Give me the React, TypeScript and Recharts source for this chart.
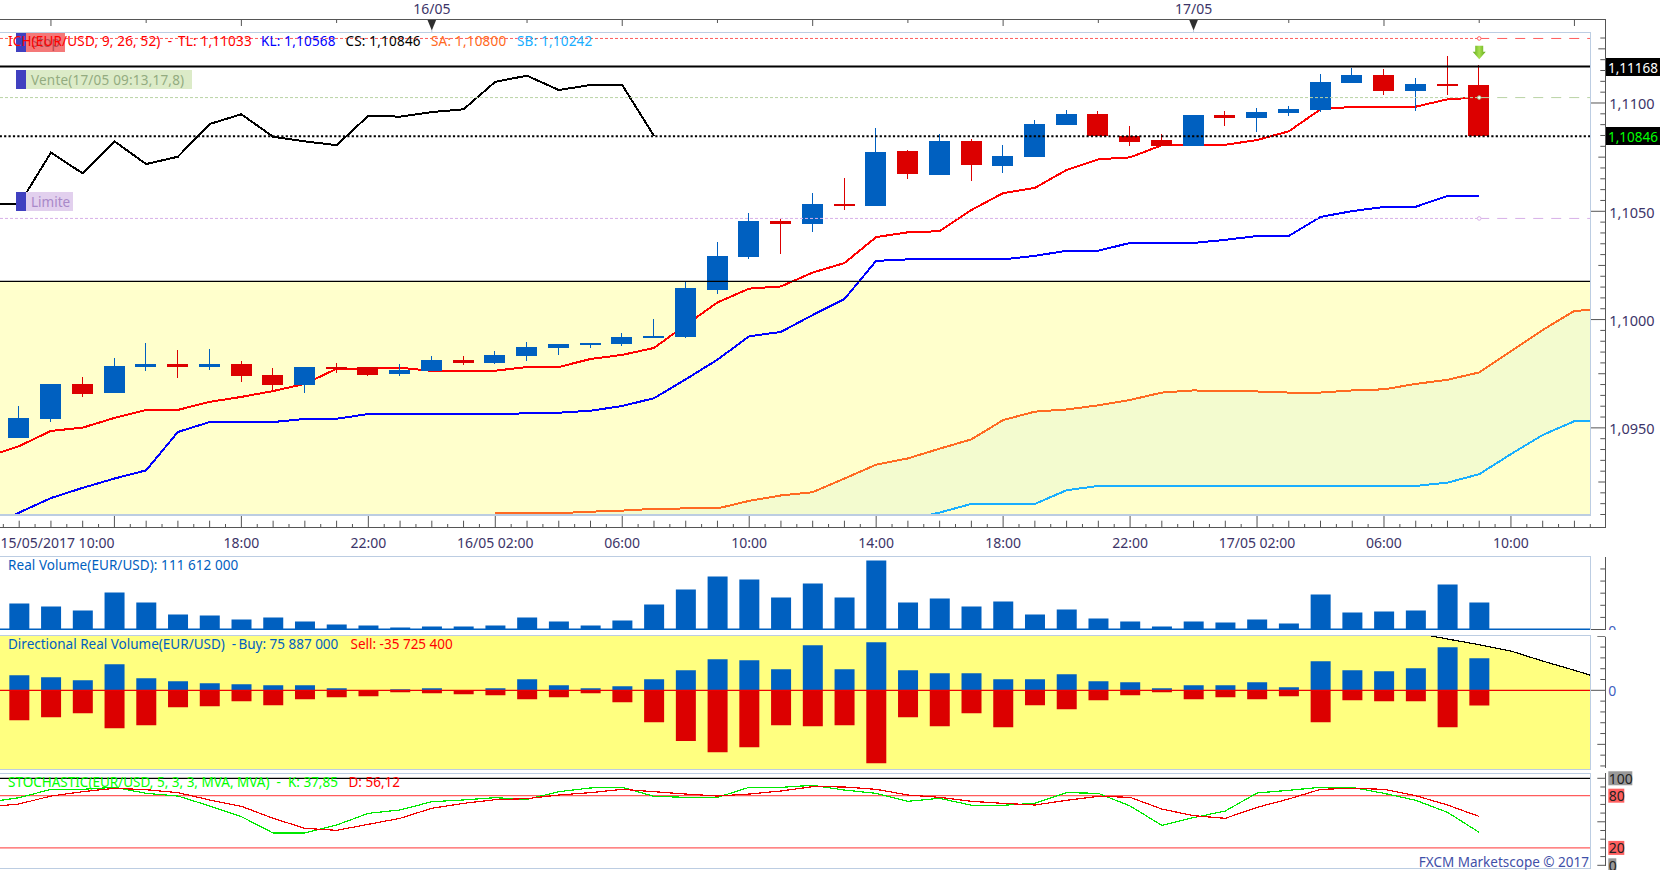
import React from "react";
import {
  Area,
  Bar,
  ComposedChart,
  Line,
  ReferenceArea,
  ReferenceDot,
  ReferenceLine,
  XAxis,
  YAxis,
} from "recharts";

// candles, index 0 = 15/05 11:00
const candleOpen = [
  1.09453, 1.09541, 1.09703, 1.09661, 1.09781, 1.09795, 1.09781, 1.09795, 1.09744, 1.09698, 1.09781, 1.09781,
  1.09749, 1.09763, 1.09813, 1.098, 1.09832, 1.09869, 1.09883, 1.09887, 1.09915, 1.0992, 1.10137, 1.10289,
  1.10455, 1.10441, 1.10534, 1.10524, 1.10778, 1.10668, 1.10825, 1.10709, 1.10751, 1.10898, 1.10949, 1.10848,
  1.10829, 1.10801, 1.10945, 1.10931, 1.10954, 1.10968, 1.11092, 1.11129, 1.11055, 1.11088, 1.11083,
];
const candleClose = [
  1.09546, 1.09703, 1.09657, 1.09786, 1.09795, 1.09781, 1.09795, 1.0974, 1.09698, 1.09781, 1.09772, 1.09744,
  1.09767, 1.09813, 1.098, 1.09837, 1.09874, 1.09887, 1.09892, 1.0992, 1.09924, 1.10146, 1.10294, 1.10455,
  1.10441, 1.10534, 1.10524, 1.10774, 1.10672, 1.10825, 1.10714, 1.10755, 1.10903, 1.10949, 1.10848, 1.1082,
  1.10801, 1.10945, 1.10931, 1.10958, 1.10972, 1.11097, 1.11129, 1.11055, 1.11088, 1.11078, 1.10848,
];
const candleHigh = [
  1.09601, 1.09703, 1.09735, 1.09823, 1.09892, 1.0986, 1.09864, 1.09809, 1.09777, 1.09781, 1.098, 1.09781,
  1.09795, 1.09832, 1.09832, 1.09855, 1.09897, 1.09887, 1.09892, 1.09938, 1.10003, 1.10178, 1.10358, 1.10492,
  1.10464, 1.10584, 1.10654, 1.10885, 1.10783, 1.10857, 1.10834, 1.10806, 1.10922, 1.10968, 1.10963, 1.10894,
  1.10857, 1.10945, 1.10963, 1.10977, 1.10986, 1.11134, 1.11162, 1.11157, 1.11115, 1.11217, 1.11175,
];
const candleLow = [
  1.09453, 1.09529, 1.09643, 1.09661, 1.09763, 1.0973, 1.09767, 1.09712, 1.09675, 1.09661, 1.09754, 1.0974,
  1.0974, 1.09763, 1.0979, 1.09795, 1.09809, 1.09837, 1.09869, 1.09878, 1.09915, 1.09915, 1.10118, 1.1028,
  1.10303, 1.10404, 1.10506, 1.10524, 1.10649, 1.10668, 1.1064, 1.10677, 1.10751, 1.10898, 1.10848, 1.10801,
  1.10801, 1.10801, 1.10894, 1.10866, 1.1094, 1.10958, 1.11092, 1.11037, 1.10963, 1.11037, 1.10848,
];

// ichimoku, all of these start one hour before the first candle
const tenkan = [
  1.09366, 1.09416, 1.09486, 1.09501, 1.09546, 1.09583, 1.09583, 1.0962, 1.09643, 1.0967, 1.09703, 1.09773,
  1.09773, 1.09778, 1.09763, 1.09763, 1.09764, 1.09781, 1.09781, 1.09818, 1.09837, 1.09869, 1.09975, 1.10079,
  1.10143, 1.10153, 1.10217, 1.10261, 1.10381, 1.10403, 1.10408, 1.10506, 1.10584, 1.10608, 1.10691, 1.1074,
  1.10749, 1.10805, 1.10806, 1.10807, 1.10829, 1.10869, 1.10971, 1.10982, 1.10983, 1.10983, 1.11017, 1.11026,
];
const kijun = [
  1.09042, 1.09109, 1.09176, 1.09223, 1.09266, 1.09304, 1.09481, 1.09527, 1.09527, 1.09527, 1.09541, 1.09542,
  1.09564, 1.09564, 1.09564, 1.09564, 1.09564, 1.09567, 1.0957, 1.09579, 1.09601, 1.09637, 1.09724, 1.09815,
  1.09923, 1.09943, 1.10021, 1.10095, 1.10271, 1.10278, 1.10278, 1.10278, 1.10278, 1.10294, 1.10318, 1.10318,
  1.10354, 1.10354, 1.10354, 1.10368, 1.10386, 1.10386, 1.10474, 1.10501, 1.1052, 1.10521, 1.10571, 1.10571,
];
const chikou = [
  1.10532, 1.10532, 1.10771, 1.10675, 1.10823, 1.10718, 1.10752, 1.10903, 1.10948, 1.10844, 1.10823, 1.10805,
  1.10941, 1.10937, 1.10958, 1.10971, 1.11098, 1.11126, 1.1106, 1.11083, 1.11083, 1.10848,
];
// senkou spans run from index 15 to index 50
const senkouA = [
  1.09106, 1.09106, 1.09106, 1.09113, 1.09118, 1.09126, 1.09128, 1.09128, 1.09163, 1.09188, 1.09203, 1.09266,
  1.0933, 1.09359, 1.09404, 1.09447, 1.09536, 1.09575, 1.09585, 1.09604, 1.09629, 1.09663, 1.09673, 1.09668,
  1.09668, 1.09663, 1.09663, 1.09673, 1.09678, 1.09703, 1.09722, 1.09756, 1.09854, 1.09952, 1.1004, 1.10049,
];
const senkouB = [
  1.0905, 1.0905, 1.0905, 1.0905, 1.0905, 1.0905, 1.0905, 1.0905, 1.0905, 1.0905, 1.0905, 1.0905,
  1.0905, 1.09075, 1.09109, 1.09149, 1.09149, 1.09149, 1.09212, 1.09232, 1.09232, 1.09232, 1.09232, 1.09232,
  1.09232, 1.09232, 1.09232, 1.09232, 1.09232, 1.09232, 1.09247, 1.09286, 1.09379, 1.09467, 1.09531, 1.09536,
];

// millions
const realVolume = [
  107.4, 95, 78.5, 152.8, 111.5, 62, 57.8, 41.3, 49.6, 33, 20.7, 16.5, 8.3, 12.4, 12.4, 16.5, 49.6, 33, 16.5, 37.2,
  103.3, 165.2, 218.9, 206.5, 132.2, 190, 132.2, 285, 111.5, 128, 95, 115.6, 62, 82.6, 45.4, 33, 12.4, 33, 28.9,
  41.3, 24.8, 144.6, 70.2, 74.3, 78.5, 185.9, 111.6,
];
const buyVolume = [
  35.6, 30.8, 23.7, 61.6, 28.4, 21.3, 16.6, 14.2, 11.9, 11.9, 4.7, 0.8, 2.4, 4.7, 0.8, 4.7, 26.1, 11.9, 4.7, 9.5,
  26.1, 47.4, 73.5, 71.1, 49.8, 106.7, 49.8, 113.8, 47.4, 40.3, 40.3, 26.1, 26.1, 37.9, 21.3, 19, 4.7, 11.9, 11.9,
  19, 7.1, 68.7, 47.4, 45, 52.1, 101.9, 75.9,
];
const sellVolume = [
  -71.1, -64, -54.5, -90.1, -83, -40.3, -37.9, -26.1, -35.6, -21.3, -16.6, -14.2, -4.7, -7.1, -9.5, -11.9, -21.3,
  -16.6, -7.1, -28.4, -75.8, -120, -147, -135, -83, -85.3, -83, -173, -64, -85.3, -54.5, -87.7, -35.6, -45, -23.7,
  -11.9, -4.7, -21.3, -16.6, -21.3, -14.2, -75.8, -23.7, -26.1, -26.1, -87.7, -35.7,
];
// the arc in the top right corner of the directional panel, index 44 to 50
const arcValues = [135.8, 121.6, 108, 93, 69.4, 47.4, 24.4];

const stochK = [
  72.4, 77.7, 87.3, 87.3, 89.6, 82.7, 79.6, 68.2, 55.9, 37.1, 37.1, 46.3, 59.7, 63.6, 73.1, 75.1, 77.7, 75.8, 84.6,
  88.9, 89.6, 79.3, 78.1, 78.1, 89.6, 89.6, 91.9, 86.5, 82.7, 73.5, 77, 69, 69, 71.2, 83.5, 82.7, 68.2, 45.9, 54.8,
  62.4, 83.1, 86.2, 89.6, 89.6, 82.7, 74.7, 60.9, 37.85,
];
const stochD = [
  67, 70.5, 79.6, 84.6, 88.5, 86.9, 83.5, 75.1, 67.8, 54, 42.5, 40.2, 47.1, 54, 65.5, 71.2, 75.4, 76.6, 80.8, 83.5,
  87.3, 84.6, 81.9, 79.6, 81.9, 85.4, 90.4, 90, 87.3, 80.8, 78.1, 73.5, 71.2, 69.3, 74.7, 79.3, 78.1, 64.7, 57, 54,
  66.6, 76.2, 87.3, 88.5, 87.3, 80, 69.3, 56.12,
];

const hourLabels: Record<number, string> = {
  3: "15/05/2017 10:00",
  7: "18:00",
  11: "22:00",
  15: "16/05 02:00",
  19: "06:00",
  23: "10:00",
  27: "14:00",
  31: "18:00",
  35: "22:00",
  39: "17/05 02:00",
  43: "06:00",
  47: "10:00",
};
const dayLabels: Record<number, string> = { 13: "16/05", 37: "17/05" };
const dayRulerTicks = [1, 4, 7, 10, 13, 16, 19, 22, 25, 28, 31, 34, 37, 40, 43, 46, 49];

const LAST_CANDLE = 46;
const STOP_LEVEL = 1.11298;
const ENTRY_LEVEL = 1.11025;
const LIMIT_LEVEL = 1.10467;
const ASK_LEVEL = 1.11168;
const BID_LEVEL = 1.10846;
const CLOUD_FLOOR = 1.10176;

const CHART_W = 1663;
const X_DOMAIN: [number, number] = [-0.605, 49.5];
const FONT = '"Noto Sans", sans-serif';
const AXIS_TEXT = "#3c3468";
const AXIS_LINE = "#555555";
const FRAME = "#bccde2";
const CANDLE_BLUE = "#0060c0";
const CANDLE_RED = "#dc0000";

const hourRulerTicks = Array.from({ length: 101 }, (_, k) => k / 2 - 0.5);
const priceTicks = Array.from({ length: 45 }, (_, k) => 1.091 + k * 0.0005);

const rows = Array.from({ length: 52 }, (_, k) => {
  const i = k - 1;
  const c = i >= 0 && i <= LAST_CANDLE;
  const sa = senkouA[i - 15];
  const sb = senkouB[i - 15];
  const arc = arcValues[i - 44];
  return {
    i,
    candle: c ? [candleLow[i], candleHigh[i]] : null,
    open: c ? candleOpen[i] : null,
    close: c ? candleClose[i] : null,
    tenkan: tenkan[k] ?? null,
    kijun: kijun[k] ?? null,
    chikou: chikou[k] ?? null,
    sa: sa ?? null,
    sb: sb ?? null,
    cloud: sa != null ? [sb, sa] : null,
    volume: c ? realVolume[i] : null,
    buy: c ? buyVolume[i] : null,
    sell: c ? sellVolume[i] : null,
    arc: arc ?? null,
    arcBand: arc != null ? [arc, 135.8] : null,
    k: stochK[k] ?? null,
    d: stochD[k] ?? null,
  };
});

function CandleShape(props: any) {
  const { x, y, width, height, payload } = props;
  if (!payload?.candle) return null;
  const [low, high] = payload.candle;
  const perUnit = height / (high - low);
  const top = y + (high - Math.max(payload.open, payload.close)) * perUnit;
  const bottom = y + (high - Math.min(payload.open, payload.close)) * perUnit;
  const color = payload.close >= payload.open ? CANDLE_BLUE : CANDLE_RED;
  const mid = x + width / 2;
  return (
    <g shapeRendering="crispEdges">
      <line x1={mid} x2={mid} y1={y} y2={y + height} stroke={color} strokeWidth={1} />
      <rect x={x} y={top} width={width} height={Math.max(bottom - top, 2)} fill={color} />
    </g>
  );
}

function HourTick({ x, payload }: any) {
  const v = payload.value;
  const long = (v + 1) % 4 === 0;
  const whole = Number.isInteger(v);
  const label = hourLabels[v];
  return (
    <g>
      <line x1={x} x2={x} y1={long ? 514.5 : whole ? 520.7 : 524} y2={527} stroke={AXIS_LINE} />
      {label && (
        <text
          x={v === 3 ? x : x}
          y={547.5}
          textAnchor={v === 3 ? "end" : "middle"}
          fontFamily={FONT}
          fontSize={14}
          fill={AXIS_TEXT}
        >
          {label}
        </text>
      )}
    </g>
  );
}

function DayTick({ x, payload }: any) {
  const v = payload.value;
  const label = dayLabels[v];
  const long = (v - 1) % 6 === 0;
  return (
    <g>
      {!label && <line x1={x} x2={x} y1={19.5} y2={long ? 26 : 23} stroke={AXIS_LINE} />}
      {label && (
        <>
          <polygon points={`${x - 4.5},19.5 ${x + 4.5},19.5 ${x},30.5`} fill="#2f2f2f" />
          <line x1={x} x2={x} y1={30} y2={33} stroke="#c0c8d8" />
          <text x={x} y={14} textAnchor="middle" fontFamily={FONT} fontSize={14} fill={AXIS_TEXT}>
            {label}
          </text>
        </>
      )}
    </g>
  );
}

function PriceTick({ x, y, payload }: any) {
  const v = Math.round(payload.value * 10000);
  const major = v % 50 === 0;
  const medium = v % 25 === 0;
  return (
    <g>
      <line x1={x + (major ? 0 : medium ? 8 : 10)} x2={x + 15} y1={y} y2={y} stroke={AXIS_LINE} />
      {major && (
        <text x={x + 19} y={y + 6.5} fontFamily={FONT} fontSize={14.5} fill={AXIS_TEXT}>
          {(v / 10000).toFixed(4).replace(".", ",")}
        </text>
      )}
    </g>
  );
}

function VolumeTick({ x, y, payload }: any) {
  const zero = payload.value === 0;
  return (
    <g>
      <line x1={x + (zero ? 0 : 10)} x2={x + 15} y1={y} y2={y} stroke={AXIS_LINE} />
      {zero && (
        <text x={x + 18} y={y + 6.5} fontFamily={FONT} fontSize={14} fill="#3f5fc0">
          0
        </text>
      )}
    </g>
  );
}

function DirectionTick({ x, y, payload }: any) {
  const v = payload.value;
  const zero = v === 0;
  return (
    <g>
      <line x1={x + (zero ? 0 : Math.abs(v) === 128 ? 7 : 10)} x2={x + 15} y1={y} y2={y} stroke={AXIS_LINE} />
      {zero && (
        <text x={x + 18} y={y + 6} fontFamily={FONT} fontSize={14} fill="#3f5fc0">
          0
        </text>
      )}
    </g>
  );
}

function StochTick({ x, y, payload }: any) {
  const v = payload.value;
  const boxed = v === 100 || v === 80 || v === 20 || v === 0;
  const fill = v === 100 || v === 0 ? "#999999" : "#ff6060";
  const w = v === 100 ? 24 : v === 0 ? 8 : 16;
  return (
    <g>
      <line x1={x + (v === 100 || v === 0 || v === 50 ? 7 : 10)} x2={x + 15} y1={y} y2={y} stroke={AXIS_LINE} />
      {boxed && (
        <>
          <rect x={x + 18} y={y - 7} width={w} height={14} fill={fill} />
          <text x={x + 18.5} y={y + 5.5} fontFamily={FONT} fontSize={14} fill="#222222">
            {v}
          </text>
        </>
      )}
    </g>
  );
}

function SellArrow({ cx, cy }: any) {
  return (
    <g>
      <defs>
        <linearGradient id="sellArrowFill" x1="0" y1="0" x2="1" y2="0">
          <stop offset="0" stopColor="#5fa818" />
          <stop offset="0.5" stopColor="#a8e050" />
          <stop offset="1" stopColor="#5fa818" />
        </linearGradient>
      </defs>
      <polygon
        points={`${cx - 4},${cy - 7} ${cx + 4},${cy - 7} ${cx + 4},${cy - 1} ${cx + 6.5},${cy - 1} ${cx},${cy + 6.5} ${cx - 6.5},${cy - 1} ${cx - 4},${cy - 1}`}
        fill="url(#sellArrowFill)"
      />
    </g>
  );
}

function Label({
  x,
  y,
  color,
  children,
  right,
  spacing,
}: {
  x: number;
  y: number;
  color: string;
  children: React.ReactNode;
  right?: boolean;
  spacing?: number;
}) {
  return (
    <span
      style={{
        position: "absolute",
        left: right ? undefined : x,
        right: right ? CHART_W - x : undefined,
        top: y - 10,
        height: 20,
        lineHeight: "20px",
        fontFamily: FONT,
        fontSize: 13.5,
        letterSpacing: spacing ?? 0,
        color,
        whiteSpace: "pre",
      }}
    >
      {children}
    </span>
  );
}

function Badge({
  y,
  width,
  fill,
  color,
  text,
  spacing,
}: {
  y: number;
  width: number;
  fill: string;
  color: string;
  text: string;
  spacing?: number;
}) {
  return (
    <>
      <div style={{ position: "absolute", left: 16, top: y, width: 10, height: 19, background: "#4040c0" }} />
      <div style={{ position: "absolute", left: 26, top: y, width, height: 19, background: fill }} />
      <Label x={31} y={y + 9.5} color={color} spacing={spacing}>
        {text}
      </Label>
    </>
  );
}

function Rule({ x, y, w, h, color }: { x: number; y: number; w: number; h: number; color: string }) {
  return <div style={{ position: "absolute", left: x, top: y, width: w, height: h, background: color }} />;
}

function Panel({
  top,
  height,
  children,
}: {
  top: number;
  height: number;
  children: React.ReactElement;
}) {
  return <div style={{ position: "absolute", left: 0, top, width: CHART_W, height, overflow: "hidden" }}>{children}</div>;
}

const lineProps = {
  xAxisId: "time",
  type: "linear" as const,
  dot: false,
  activeDot: false,
  isAnimationActive: false,
  connectNulls: false,
  shapeRendering: "crispEdges",
};

export default function App() {
  return (
    <div style={{ position: "absolute", left: 0, top: 0, width: CHART_W, height: 870, overflow: "hidden", background: "#fff" }}>
      {/* price panel */}
      <Panel top={0} height={556}>
        <ComposedChart width={CHART_W} height={555} data={rows} margin={{ top: 0, right: 0, bottom: 0, left: 0 }}>
          <XAxis
            xAxisId="time"
            dataKey="i"
            type="number"
            domain={X_DOMAIN}
            allowDataOverflow
            ticks={hourRulerTicks}
            interval={0}
            height={40.5}
            axisLine={false}
            tickLine={false}
            tick={(p: any) => <HourTick {...p} />}
          />
          <XAxis
            xAxisId="days"
            dataKey="i"
            type="number"
            orientation="top"
            domain={X_DOMAIN}
            allowDataOverflow
            ticks={dayRulerTicks}
            interval={0}
            height={32.5}
            axisLine={false}
            tickLine={false}
            tick={(p: any) => <DayTick {...p} />}
          />
          <YAxis
            orientation="right"
            type="number"
            domain={[1.091, 1.113255]}
            allowDataOverflow
            ticks={priceTicks}
            interval={0}
            width={72.7}
            axisLine={false}
            tickLine={false}
            tickSize={0}
            tickMargin={0}
            tick={(p: any) => <PriceTick {...p} />}
          />
          <ReferenceArea xAxisId="time" y1={1.091} y2={CLOUD_FLOOR} fill="#ffffcc" fillOpacity={1} stroke="none" />
          <Area
            xAxisId="time"
            dataKey="cloud"
            type="linear"
            fill="#f3fbcf"
            fillOpacity={1}
            stroke="none"
            dot={false}
            activeDot={false}
            isAnimationActive={false}
          />
          <Line {...lineProps} dataKey="sb" stroke="#19aeff" strokeWidth={2} />
          <Line {...lineProps} dataKey="sa" stroke="#ff6a22" strokeWidth={2} />
          <Line {...lineProps} dataKey="kijun" stroke="#0000ff" strokeWidth={2} />
          <Line {...lineProps} dataKey="tenkan" stroke="#ff0000" strokeWidth={2} />
          <Line {...lineProps} dataKey="chikou" stroke="#000000" strokeWidth={2} />
          <Bar
            xAxisId="time"
            dataKey="candle"
            barSize={21}
            shape={(p: any) => <CandleShape {...p} />}
            isAnimationActive={false}
            zIndex={500}
          />
          <ReferenceLine xAxisId="time" y={CLOUD_FLOOR} stroke="#000000" strokeWidth={1.2} zIndex={600} />
          <ReferenceLine xAxisId="time" y={ASK_LEVEL} stroke="#000000" strokeWidth={2} zIndex={600} />
          <ReferenceLine xAxisId="time" y={BID_LEVEL} stroke="#000000" strokeWidth={2} strokeDasharray="2.2 2.2" zIndex={600} />
          <ReferenceLine xAxisId="time" segment={[{ x: -0.605, y: STOP_LEVEL }, { x: LAST_CANDLE, y: STOP_LEVEL }]} stroke="#ff5c5c" strokeDasharray="3 2" zIndex={600} />
          <ReferenceLine xAxisId="time" segment={[{ x: LAST_CANDLE, y: STOP_LEVEL }, { x: 49.5, y: STOP_LEVEL }]} stroke="#ff5c5c" strokeDasharray="10 8" zIndex={600} />
          <ReferenceLine xAxisId="time" segment={[{ x: -0.605, y: ENTRY_LEVEL }, { x: LAST_CANDLE, y: ENTRY_LEVEL }]} stroke="#b9d3a4" strokeDasharray="3 2" zIndex={600} />
          <ReferenceLine xAxisId="time" segment={[{ x: LAST_CANDLE, y: ENTRY_LEVEL }, { x: 49.5, y: ENTRY_LEVEL }]} stroke="#b9d3a4" strokeDasharray="10 8" zIndex={600} />
          <ReferenceLine xAxisId="time" segment={[{ x: -0.605, y: LIMIT_LEVEL }, { x: LAST_CANDLE, y: LIMIT_LEVEL }]} stroke="#d8b0e8" strokeDasharray="3 2" zIndex={600} />
          <ReferenceLine xAxisId="time" segment={[{ x: LAST_CANDLE, y: LIMIT_LEVEL }, { x: 49.5, y: LIMIT_LEVEL }]} stroke="#d8b0e8" strokeDasharray="10 8" zIndex={600} />
          <ReferenceDot xAxisId="time" x={LAST_CANDLE} y={STOP_LEVEL} r={1.8} fill="#ffffff" stroke="#ff5c5c" zIndex={610} />
          <ReferenceDot xAxisId="time" x={LAST_CANDLE} y={ENTRY_LEVEL} r={1.8} fill="#ffffff" stroke="#9fbd84" zIndex={610} />
          <ReferenceDot xAxisId="time" x={LAST_CANDLE} y={LIMIT_LEVEL} r={1.8} fill="#ffffff" stroke="#d8b0e8" zIndex={610} />
          <ReferenceDot xAxisId="time" x={LAST_CANDLE} y={1.11232} shape={(p: any) => <SellArrow {...p} />} zIndex={610} />
        </ComposedChart>
      </Panel>

      {/* real volume */}
      <Rule x={0} y={556} w={1591} h={1} color={FRAME} />
      <Panel top={557} height={73}>
        <ComposedChart width={CHART_W} height={80} data={rows} margin={{ top: 0, right: 0, bottom: 7.5, left: 0 }}>
          <XAxis xAxisId="time" dataKey="i" type="number" domain={X_DOMAIN} allowDataOverflow hide />
          <YAxis
            orientation="right"
            type="number"
            domain={[0, 299.4]}
            ticks={[0, 50, 100, 150, 200, 250]}
            interval={0}
            width={72.7}
            axisLine={false}
            tickLine={false}
            tickSize={0}
            tickMargin={0}
            tick={(p: any) => <VolumeTick {...p} />}
          />
          <Bar xAxisId="time" dataKey="volume" fill={CANDLE_BLUE} barSize={20} isAnimationActive={false} />
          <ReferenceLine xAxisId="time" y={0} stroke={CANDLE_BLUE} strokeWidth={2} />
        </ComposedChart>
      </Panel>

      {/* directional volume */}
      <Rule x={0} y={636} w={1590} h={133.5} color="#ffff80" />
      <Panel top={636} height={133.5}>
        <ComposedChart width={CHART_W} height={133.5} data={rows} stackOffset="sign" margin={{ top: 0, right: 0, bottom: 0, left: 0 }}>
          <XAxis xAxisId="time" dataKey="i" type="number" domain={X_DOMAIN} allowDataOverflow hide />
          <YAxis
            orientation="right"
            type="number"
            domain={[-187.6, 128.7]}
            allowDataOverflow
            ticks={[-179.2, -153.6, -128, -102.4, -76.8, -51.2, -25.6, 0, 25.6, 51.2, 76.8, 102.4, 128]}
            interval={0}
            width={72.7}
            axisLine={false}
            tickLine={false}
            tickSize={0}
            tickMargin={0}
            tick={(p: any) => <DirectionTick {...p} />}
          />
          <Area
            xAxisId="time"
            dataKey="arcBand"
            type="linear"
            fill="#ffffff"
            fillOpacity={1}
            stroke="none"
            dot={false}
            activeDot={false}
            isAnimationActive={false}
          />
          <Bar xAxisId="time" dataKey="buy" stackId="dir" fill={CANDLE_BLUE} barSize={20} isAnimationActive={false} />
          <Bar xAxisId="time" dataKey="sell" stackId="dir" fill={CANDLE_RED} barSize={20} isAnimationActive={false} />
          <Line {...lineProps} dataKey="arc" stroke="#000000" strokeWidth={1.2} />
          <ReferenceLine xAxisId="time" y={0} stroke="#f00000" strokeWidth={1.2} zIndex={600} />
        </ComposedChart>
      </Panel>

      {/* stochastic */}
      <Panel top={770} height={100}>
        <ComposedChart width={CHART_W} height={104} data={rows} margin={{ top: 3.5, right: 0, bottom: 6, left: 0 }}>
          <XAxis xAxisId="time" dataKey="i" type="number" domain={X_DOMAIN} allowDataOverflow hide />
          <YAxis
            orientation="right"
            type="number"
            domain={[-3.1, 105.5]}
            allowDataOverflow
            ticks={[0, 10, 20, 30, 40, 50, 60, 70, 80, 90, 100]}
            interval={0}
            width={72.7}
            axisLine={false}
            tickLine={false}
            tickSize={0}
            tickMargin={0}
            tick={(p: any) => <StochTick {...p} />}
          />
          <ReferenceLine xAxisId="time" y={100} stroke="#000000" strokeWidth={1.2} />
          <ReferenceLine xAxisId="time" y={80} stroke="#ff5c5c" strokeWidth={1.2} />
          <ReferenceLine xAxisId="time" y={20} stroke="#ff5c5c" strokeWidth={1.2} />
          <Line {...lineProps} dataKey="k" stroke="#00e800" strokeWidth={1.2} />
          <Line {...lineProps} dataKey="d" stroke="#f00000" strokeWidth={1.2} />
        </ComposedChart>
      </Panel>

      {/* frames and rulers */}
      <Rule x={0} y={19} w={1606} h={1.2} color={AXIS_LINE} />
      <Rule x={0} y={527} w={1606} h={1.2} color={AXIS_LINE} />
      <Rule x={1605} y={19} w={1.2} h={509} color={AXIS_LINE} />
      <Rule x={1605} y={557} w={1.2} h={73} color={AXIS_LINE} />
      <Rule x={1605} y={637} w={1.2} h={131} color={AXIS_LINE} />
      <Rule x={1605} y={773} w={1.2} h={93} color={AXIS_LINE} />
      <Rule x={0} y={32} w={1591} h={1.2} color={FRAME} />
      <Rule x={0} y={514.4} w={1591} h={1.2} color={FRAME} />
      <Rule x={1590} y={32} w={1.2} h={483} color={FRAME} />
      <Rule x={1590} y={556} w={1.2} h={74} color={FRAME} />
      <Rule x={0} y={635} w={1591} h={1.2} color={FRAME} />
      <Rule x={0} y={769} w={1591} h={1.2} color={FRAME} />
      <Rule x={1590} y={635} w={1.2} h={135} color={FRAME} />
      <Rule x={0} y={773} w={1591} h={1.2} color={FRAME} />
      <Rule x={0} y={867.6} w={1591} h={1.2} color={FRAME} />
      <Rule x={1590} y={773} w={1.2} h={95} color={FRAME} />

      {/* order badges */}
      <Badge y={32.5} width={39} fill="#f47878" color="#b04850" text="Stop" />
      <Badge y={70} width={166} fill="#dcebc8" color="#93ab80" text="Vente(17/05 09:13,17,8)" spacing={0.2} />
      <Badge y={192} width={47} fill="#e2d0ee" color="#a888c8" text="Limite" />

      {/* legends */}
      <Label x={8} y={40.5} color="#ff0000" spacing={0.17}>{"ICH(EUR/USD, 9, 26, 52)  -"}</Label>
      <Label x={178} y={40.5} color="#ff0000" spacing={0.2}>TL: 1,11033</Label>
      <Label x={261} y={40.5} color="#0000ff" spacing={0.2}>KL: 1,10568</Label>
      <Label x={345.5} y={40.5} color="#000000" spacing={0.2}>CS: 1,10846</Label>
      <Label x={431} y={40.5} color="#ff6a22" spacing={0.2}>SA: 1,10800</Label>
      <Label x={517} y={40.5} color="#19aeff" spacing={0.2}>SB: 1,10242</Label>

      <Label x={8} y={564.5} color={CANDLE_BLUE} spacing={0.06}>Real Volume(EUR/USD): 111 612 000</Label>
      <Label x={8} y={643.7} color={CANDLE_BLUE}>{"Directional Real Volume(EUR/USD)  -"}</Label>
      <Label x={238.4} y={643.7} color={CANDLE_BLUE}>Buy: 75 887 000</Label>
      <Label x={350.5} y={643.7} color="#ff0000">Sell: -35 725 400</Label>
      <Label x={8} y={781.7} color="#00ff00">{"STOCHASTIC(EUR/USD, 5, 3, 3, MVA, MVA)  -  K: 37,85"}</Label>
      <Label x={348.5} y={781.7} color="#ff0000">D: 56,12</Label>
      <Label x={1589} y={861.5} color="#3f4fa8" right>{"FXCM Marketscope © 2017"}</Label>

      {/* current price tags */}
      <Rule x={1606} y={58.3} w={54} h={18} color="#000000" />
      <Rule x={1606} y={127} w={54} h={18} color="#000000" />
      <Label x={1608} y={67.5} color="#ffffff">1,11168</Label>
      <Label x={1608} y={136.5} color="#00ff00">1,10846</Label>
    </div>
  );
}
